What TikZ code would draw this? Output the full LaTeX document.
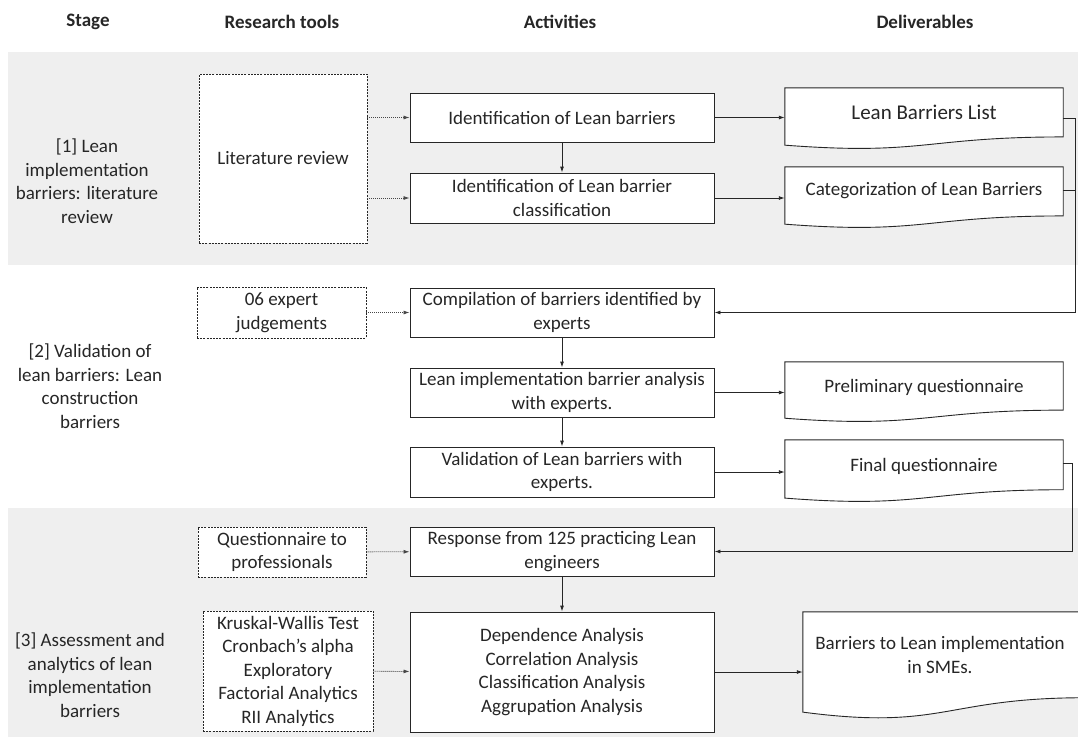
\documentclass[tikz,border=0pt]{standalone}
\usepackage{fontspec}
\setmainfont{Carlito}
\usetikzlibrary{arrows.meta,calc}
\definecolor{band}{RGB}{239,239,239}
\definecolor{ink}{RGB}{38,38,38}
\tikzset{
  every node/.style={font=\fontsize{19}{23.5}\selectfont, text=ink},
  hdr/.style={font=\fontsize{19}{23.5}\selectfont\bfseries},
  actbox/.style={draw=ink, fill=white, line width=0.9pt, minimum width=304pt, inner sep=0pt, align=center},
  toolbox/.style={draw=ink, fill=white, line width=0.8pt, dash pattern=on 2pt off 1.2pt, inner sep=0pt, align=center},
  docframe/.style={inner sep=0pt},
  doctext/.style={align=center},
  stagetxt/.style={align=center},
  flow/.style={draw=ink, line width=0.9pt, -{Latex[length=6pt,width=4pt]}},
  plain/.style={draw=ink, line width=0.9pt},
  tool/.style={draw=ink!85, line width=0.8pt, dash pattern=on 1pt off 1pt, -{Latex[length=6pt,width=4pt]}},
}
\newcommand\mydoc[1]{%
  \draw[draw=ink, fill=white, line width=0.9pt]
    (#1.north west) -- (#1.north east) -- ($(#1.north east)!0.8!(#1.south east)$)
    .. controls ($(#1.north)!0.8!(#1.south)$) and ($(#1.north)!1.107!(#1.south)$) ..
    ($(#1.north west)!0.934!(#1.south west)$) -- cycle;}
\begin{document}
\begin{tikzpicture}[x=1pt,y=-1pt]
\useasboundingbox (0,0) rectangle (1078,737);
\clip (0,0) rectangle (1078,737);
\fill[white] (0,0) rectangle (1078,737);
% bands
\fill[band] (8,52) rectangle (1078,265);
\fill[band] (8,508) rectangle (1078,737);

% headers
\node[hdr] (hs) at (88,22) {Stage};
\node[hdr] (hr) at (282,22) {Research tools};
\node[hdr] (ha) at (560,22) {Activities};
\node[hdr] (hd) at (925,22) {Deliverables};

% stages
\node[stagetxt] (s1) at (87,181) {[1] Lean\\implementation\\barriers: literature\\review};
\node[stagetxt] (s2) at (90,386) {[2] Validation of\\lean barriers: Lean\\construction\\barriers};
\node[stagetxt] (s3) at (90,675) {[3] Assessment and\\analytics of lean\\implementation\\barriers};

% research tools
\node[toolbox, minimum width=168pt, minimum height=169pt] (lit) at (283,158.5) {Literature review};
\node[toolbox, minimum width=169pt, minimum height=51pt] (exp) at (281.5,312.5) {06 expert\\judgements};
\node[toolbox, minimum width=168pt, minimum height=50pt] (qp) at (282,552) {Questionnaire to\\professionals};
\node[toolbox, minimum width=170pt, minimum height=120pt] (kw) at (288,671) {Kruskal-Wallis Test\\Cronbach’s alpha\\Exploratory\\Factorial Analytics\\RII Analytics};

% activities
\node[actbox, minimum height=49pt] (a1) at (562,117.5) {Identification of Lean barriers};
\node[actbox, minimum height=50pt] (a2) at (562,198) {Identification of Lean barrier\\classification};
\node[actbox, minimum height=49pt] (a3) at (562,312.5) {Compilation of barriers identified by\\experts};
\node[actbox, minimum height=49pt] (a4) at (562,392.5) {Lean implementation barrier analysis\\with experts.};
\node[actbox, minimum height=50pt] (a5) at (562,472) {Validation of Lean barriers with\\experts.};
\node[actbox, minimum height=49pt] (a6) at (562,551.5) {Response from 125 practicing Lean\\engineers};
\node[actbox, minimum height=120pt] (a7) at (562,672) {Dependence Analysis\\Correlation Analysis\\Classification Analysis\\Aggrupation Analysis};

% deliverables
\node[docframe, minimum width=278pt, minimum height=61pt] (d1) at (924,118.5) {};
\node[docframe, minimum width=278pt, minimum height=61pt] (d2) at (924,197.5) {};
\node[docframe, minimum width=278pt, minimum height=60pt] (d3) at (924,392) {};
\node[docframe, minimum width=278pt, minimum height=62pt] (d4) at (924,471) {};
\node[docframe, minimum width=282pt, minimum height=107pt] (d5) at (944,665.5) {};
\mydoc{d1}\mydoc{d2}\mydoc{d3}\mydoc{d4}\mydoc{d5}
\node[doctext, font=\fontsize{21}{25}\selectfont] (t1) at ($(d1.north)+(0,25)$) {Lean Barriers List};
\node[doctext] (t2) at ($(d2.north)+(0,24)$) {Categorization of Lean Barriers};
\node[doctext] (t3) at ($(d3.north)+(0,26)$) {Preliminary questionnaire};
\node[doctext] (t4) at ($(d4.north)+(0,27)$) {Final questionnaire};
\node[doctext] (t5) at ($(d5.north)+(-4,43)$) {Barriers to Lean implementation\\in SMEs.};

% tool connectors
\draw[tool] (lit.east |- a1) -- (a1);
\draw[tool] (lit.east |- a2) -- (a2);
\draw[tool] (exp) -- (a3);
\draw[tool] (qp) -- (a6);
\draw[tool] (kw) -- (a7);

% activity flow
\draw[flow] (a1) -- (a2);
\draw[flow] (a3) -- (a4);
\draw[flow] (a4) -- (a5);
\draw[flow] (a6) -- (a7);

% to deliverables
\draw[flow] (a1) -- (a1 -| d1.west);
\draw[flow] (a2) -- (a2 -| d2.west);
\draw[flow] (a4) -- (a4 -| d3.west);
\draw[flow] (a5) -- (a5 -| d4.west);
\draw[flow] (a7) -- (a7 -| d5.west);

% feedback connectors
\draw[flow] (d1.east) -- ++(12,0) |- (a3.east);
\draw[plain] ([yshift=7.5pt]d2.east) -- ++(12,0);
\draw[flow] ([yshift=8pt]d4.east) -- ++(9,0) |- (a6.east);
\end{tikzpicture}
\end{document}
